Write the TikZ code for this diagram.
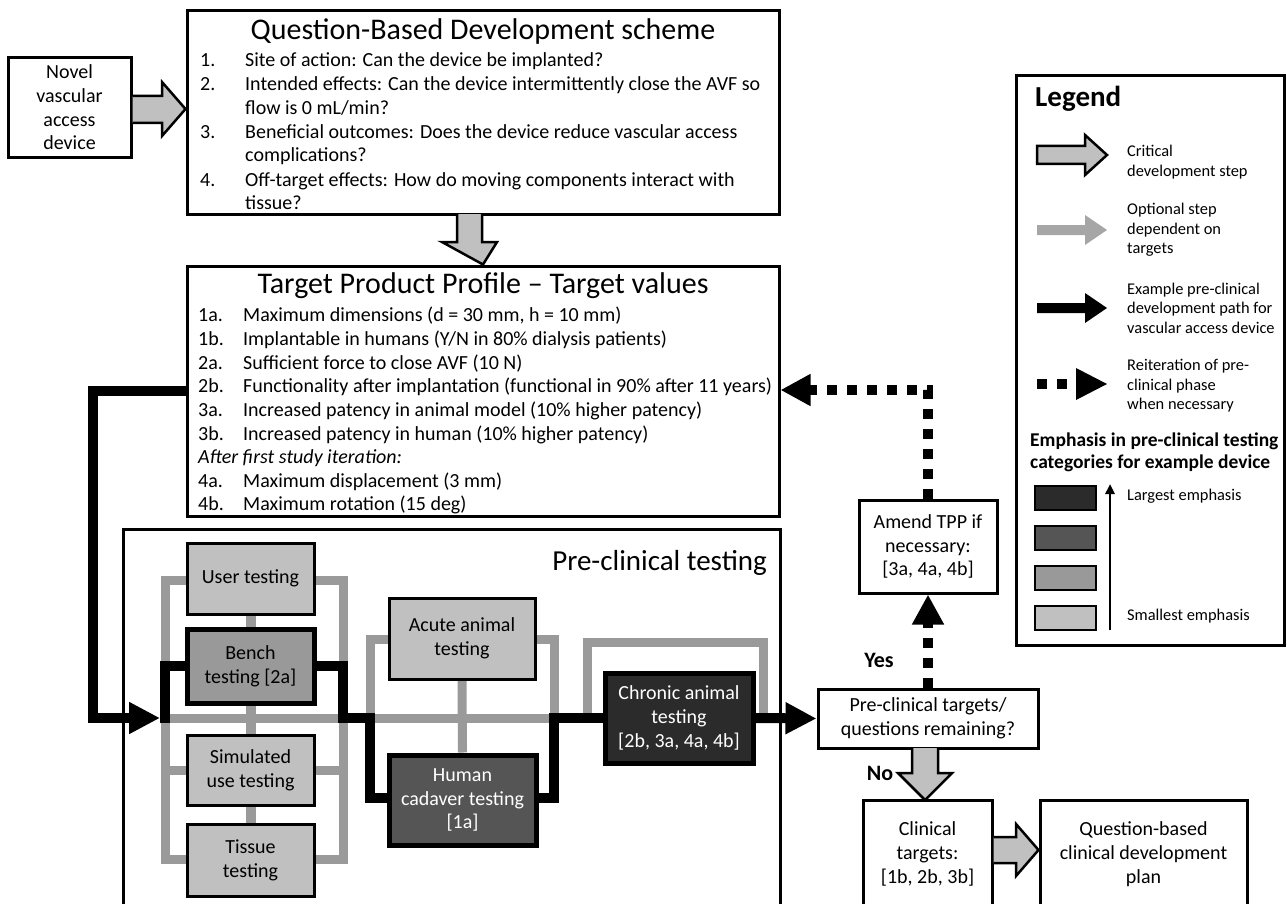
\documentclass[tikz,border=0pt]{standalone}
\usepackage{fontspec}
\setmainfont{Carlito}
\usetikzlibrary{arrows.meta,backgrounds,calc}
\definecolor{lgray}{HTML}{C0C0C0}
\definecolor{mgray}{HTML}{999999}
\definecolor{dgray}{HTML}{555555}
\definecolor{vdgray}{HTML}{2B2B2B}
\definecolor{netgray}{HTML}{9A9A9A}
\definecolor{optgray}{HTML}{A6A6A6}
\newcommand\bodyfnt{\fontsize{20}{23.7}\selectfont}
\newcommand\legfnt{\fontsize{16.4}{19.5}\selectfont}
\newcommand\numbx[1]{\makebox[45pt][l]{#1}}
\begin{document}
\begin{tikzpicture}[x=1pt,y=-1pt,
  box/.style={draw, line width=3pt, inner sep=0pt, align=center, font=\bodyfnt},
  thickbox/.style={box, line width=5pt},
  ln/.style={anchor=base west, inner sep=0pt, font=\bodyfnt},
  title/.style={inner sep=0pt, font=\fontsize{30}{36}\selectfont},
  leg/.style={anchor=west, inner sep=0pt, align=left, font=\legfnt},
  gline/.style={draw=netgray, line width=9pt, line join=miter},
  blk/.style={draw=black, line width=10pt, line join=miter},
  dotline/.style={draw=black, line width=10pt, dash pattern=on 10pt off 10pt},
  blockarrow/.style={draw=black, fill=lgray, line width=2.5pt, line join=miter},
  bigtip/.style={-{Triangle[length=31pt,width=30pt]}},
  dottip/.style={-{Triangle[length=30pt,width=30pt]}}
]
\useasboundingbox (0,0) rectangle (1287,904);
\clip (0,0) rectangle (1287,904);

% ---------- top boxes ----------
\node[box, minimum width=123pt, minimum height=100pt] (novel) at (69.5,107.5) {Novel\\vascular\\access\\device};
\node[box, minimum width=592pt, minimum height=203pt] (qbd) at (483,112.5) {};
\node[box, minimum width=592pt, minimum height=250pt] (tpp) at (483,391) {};

\node[title] (qbdtitle) at (483,32) {Question-Based Development scheme};
\node[ln] (q1) at (200,67) {\numbx{1.}Site of action: Can the device be implanted?};
\node[ln] (q2) at (200,91) {\numbx{2.}Intended effects: Can the device intermittently close the AVF so};
\node[ln] (q2b) at (245,115) {flow is 0 mL/min?};
\node[ln] (q3) at (200,138.5) {\numbx{3.}Beneficial outcomes: Does the device reduce vascular access};
\node[ln] (q3b) at (245,162) {complications?};
\node[ln] (q4) at (200,186) {\numbx{4.}Off-target effects: How do moving components interact with};
\node[ln] (q4b) at (245,209) {tissue?};

\node[title] (tpptitle) at (483,286) {Target Product Profile -- Target values};
\node[ln] (t1a) at (198,321) {\numbx{1a.}Maximum dimensions (d = 30 mm, h = 10 mm)};
\node[ln] (t1b) at (198,345) {\numbx{1b.}Implantable in humans (Y/N in 80\% dialysis patients)};
\node[ln] (t2a) at (198,369) {\numbx{2a.}Sufficient force to close AVF (10 N)};
\node[ln] (t2b) at (198,392) {\numbx{2b.}Functionality after implantation (functional in 90\% after 11 years)};
\node[ln] (t3a) at (198,416) {\numbx{3a.}Increased patency in animal model (10\% higher patency)};
\node[ln] (t3b) at (198,440) {\numbx{3b.}Increased patency in human (10\% higher patency)};
\node[ln, font=\bodyfnt\itshape] (tit) at (198,463) {After first study iteration:};
\node[ln] (t4a) at (198,487) {\numbx{4a.}Maximum displacement (3 mm)};
\node[ln] (t4b) at (198,510.5) {\numbx{4b.}Maximum rotation (15 deg)};

% block arrows
\draw[blockarrow] (novel.east |- 0,96) -- (162,96) -- (162,82) -- (qbd.west |- 0,109) -- (162,136) -- (162,123) -- (novel.east |- 0,123);
\draw[blockarrow] (457,214) -- (457,242) -- (442,242) -- (tpp.north) -- (497,242) -- (482,242) -- (482,214);

% ---------- pre-clinical ----------
\node[box, minimum width=657pt, minimum height=386pt] (preclin) at (451.5,722) {};
\node[anchor=east, inner sep=0pt, font=\fontsize{29}{35}\selectfont] (pctitle) at (767,563) {Pre-clinical testing};

\node[box, fill=lgray, minimum width=127pt, minimum height=71pt] (user) at (250.5,578.5) {User testing};
\node[thickbox, fill=mgray, minimum width=127pt, minimum height=74pt] (bench) at (250.5,666) {Bench\\testing [2a]};
\node[box, fill=lgray, minimum width=127pt, minimum height=70pt] (sim) at (250.5,770) {Simulated\\use testing};
\node[box, fill=lgray, minimum width=127pt, minimum height=72pt] (tissue) at (250.5,860) {Tissue\\testing};
\node[box, fill=lgray, minimum width=146pt, minimum height=81pt] (acute) at (462,638.5) {Acute animal\\testing};
\node[thickbox, fill=dgray, text=white, minimum width=147pt, minimum height=90pt] (human) at (462.5,800) {Human\\cadaver testing\\{[1a]}};
\node[thickbox, fill=vdgray, text=white, minimum width=148pt, minimum height=90pt] (chronic) at (679,718) {Chronic animal\\testing\\{[2b, 3a, 4a, 4b]}};

\begin{scope}[on background layer]
  \draw[gline] (165,580) rectangle (343,859);
  \draw[gline] (user.south) -- (tissue.north);
  \draw[gline] (251,580) -- (251,859);
  \draw[gline] (165,770) -- (343,770);
  \draw[gline] (165,718) -- (chronic.west);
  \draw[gline] (587,718) -- (587,642) -- (763,642) -- (763,718);
  \draw[gline] (370,718) -- (370,639) -- (554,639) -- (554,718);
  \draw[gline] (acute.south) -- (human.north);
\end{scope}

% black example path
\coordinate (tppL) at (tpp.west |- 0,391);
\draw[blk, bigtip] (tppL) -- (93,391) -- (93,718) -- (160,718);
\draw[blk] (165,723) -- (165,666) -- (bench.west);
\draw[blk] (bench.east) -- (343,666) -- (343,718) -- (370,718) -- (370,798) -- (human.west |- 0,798);
\draw[blk] (human.east |- 0,798) -- (554,798) -- (554,718) -- (chronic.west);

% ---------- right side ----------
\node[box, minimum width=220pt, minimum height=59pt] (pct) at (928,718.5) {Pre-clinical targets/\\questions remaining?};
\node[box, minimum width=138pt, minimum height=93pt] (amend) at (928,546.5) {Amend TPP if\\necessary:\\{[3a, 4a, 4b]}};
\node[box, minimum width=129pt, minimum height=108pt] (clin) at (927.5,854) {Clinical\\targets:\\{[1b, 2b, 3b]}};
\node[box, minimum width=207pt, minimum height=108pt] (qbplan) at (1143.5,854) {Question-based\\clinical development\\plan};

\draw[blk, bigtip] (chronic.east) -- (pct.west);
\draw[dotline, dottip] (pct.north) -- (amend.south);
\draw[dotline, dottip] (amend.north) -- (amend.north |- 0,390) -- (tpp.east |- 0,390);

\node[inner sep=0pt, font=\fontsize{22}{26}\selectfont\bfseries] (yes) at (879,660) {Yes};
\node[inner sep=0pt, font=\fontsize{22}{26}\selectfont\bfseries] (no) at (880,773) {No};

\draw[blockarrow] (912,748) -- (912,773) -- (898,773) -- (925,800) -- (952,773) -- (938,773) -- (938,748);
\draw[blockarrow] (clin.east |- 0,837) -- (1016,837) -- (1016,824) -- (qbplan.west |- 0,850) -- (1016,876) -- (1016,863) -- (clin.east |- 0,863);

% ---------- legend ----------
\node[draw, line width=3pt, minimum width=268pt, minimum height=569pt, inner sep=0pt] (legend) at (1150,360.5) {};
\node[anchor=west, inner sep=0pt, font=\fontsize{29}{34}\selectfont\bfseries] (legtitle) at (1035,99) {Legend};

\draw[blockarrow] (1037,146) -- (1085,146) -- (1085,135) -- (1107,155) -- (1085,175) -- (1085,164) -- (1037,164) -- cycle;
\node[leg] (l1) at (1127,162) {Critical\\development step};

\fill[optgray] (1037,225) -- (1085,225) -- (1085,215) -- (1107,230) -- (1085,245) -- (1085,235) -- (1037,235) -- cycle;
\node[leg] (l2) at (1127,230) {Optional step\\dependent on\\targets};

\fill[black] (1037,303) -- (1085,303) -- (1085,293) -- (1107,308) -- (1085,323) -- (1085,313) -- (1037,313) -- cycle;
\node[leg] (l3) at (1127,308) {Example pre-clinical\\development path for\\vascular access device};

\fill[black] (1037,379) rectangle (1047,389);
\fill[black] (1057,379) rectangle (1067,389);
\fill[black] (1076,368) -- (1107,384) -- (1076,400) -- cycle;
\node[leg] (l4) at (1127,386) {Reiteration of pre-\\clinical phase\\when necessary};

\node[anchor=west, inner sep=0pt, align=left, font=\fontsize{19.5}{22}\selectfont\bfseries] (emph) at (1030,452) {Emphasis in pre-clinical testing\\categories for example device};

\node[draw, line width=2pt, fill=vdgray, minimum width=61pt, minimum height=24pt, inner sep=0pt] (s1) at (1065.5,498) {};
\node[draw, line width=2pt, fill=dgray, minimum width=61pt, minimum height=24pt, inner sep=0pt] (s2) at (1065.5,538) {};
\node[draw, line width=2pt, fill=mgray, minimum width=61pt, minimum height=24pt, inner sep=0pt] (s3) at (1065.5,578) {};
\node[draw, line width=2pt, fill=lgray, minimum width=61pt, minimum height=24pt, inner sep=0pt] (s4) at (1065.5,617.5) {};
\coordinate (arrbot) at (1110,630);
\coordinate (arrtop) at (1110,484);
\draw[line width=2.5pt, -{Triangle[length=10pt,width=9pt]}] (arrbot) -- (arrtop);
\node[leg] (largest) at (1127,496) {Largest emphasis};
\node[leg] (smallest) at (1127,616) {Smallest emphasis};
\end{tikzpicture}
\end{document}
